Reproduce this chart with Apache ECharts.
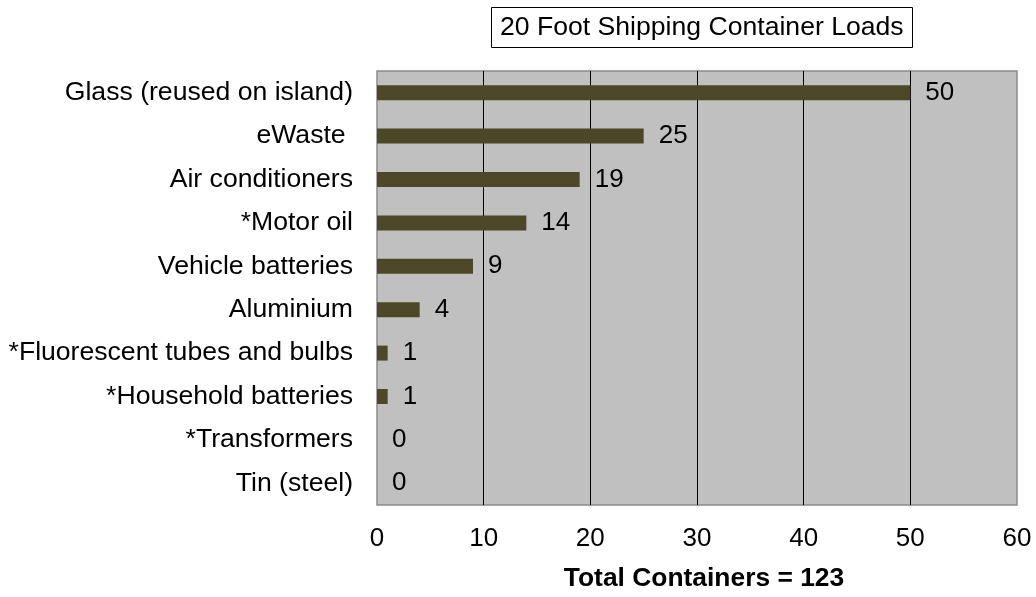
<!DOCTYPE html>
<html>
<head>
<meta charset="utf-8">
<script src="https://cdn.jsdelivr.net/npm/echarts@6/dist/echarts.min.js"></script>
<style>html,body{margin:0;padding:0;background:#fff}#c{width:1036px;height:597px}</style>
</head>
<body>
<div id="c"></div>
<script>
const categories = ["Glass (reused on island)", "eWaste ", "Air conditioners", "*Motor oil", "Vehicle batteries", "Aluminium", "*Fluorescent tubes and bulbs", "*Household batteries", "*Transformers", "Tin (steel)"];
const values = [50, 25, 19, 14, 9, 4, 1, 1, 0, 0];
const chartTitle = "20 Foot Shipping Container Loads";
const axisTitle = "Total Containers = 123";

const font = "'Liberation Sans', Arial, sans-serif";
const chart = echarts.init(document.getElementById('c'));
chart.setOption({
  animation: false,
  backgroundColor: '#ffffff',
  title: {
    text: chartTitle,
    left: 491, top: 7,
    padding: [7, 9],
    borderColor: '#000', borderWidth: 1,
    textStyle: { fontFamily: font, fontSize: 26.6, fontWeight: 'normal', color: '#000' }
  },
  grid: {
    left: 377, right: 19, top: 71, bottom: 92,
    show: true, backgroundColor: '#c0c0c0', borderColor: '#8a8a8a', borderWidth: 1.5
  },
  xAxis: {
    type: 'value', min: 0, max: 60, interval: 10,
    axisLine: { show: false }, axisTick: { show: false },
    axisLabel: { fontFamily: font, fontSize: 26, color: '#000', margin: 21 },
    splitLine: { show: true, showMinLine: false, showMaxLine: false, lineStyle: { color: '#000', width: 1 } },
    name: axisTitle, nameLocation: 'middle', nameGap: 61,
    nameTextStyle: { fontFamily: font, fontSize: 26.4, fontWeight: 'bold', color: '#000', padding: [0, 0, 0, 14] }
  },
  yAxis: {
    type: 'category', data: categories, inverse: true,
    axisLine: { show: false }, axisTick: { show: false },
    axisLabel: { fontFamily: font, fontSize: 26.6, color: '#000', margin: 24 },
    splitLine: { show: false }
  },
  series: [{
    type: 'bar', data: values, barWidth: 15,
    itemStyle: { color: '#4b4829' },
    label: { show: true, position: 'right', distance: 15, fontFamily: font, fontSize: 26, color: '#000' }
  }]
});
</script>
</body>
</html>
